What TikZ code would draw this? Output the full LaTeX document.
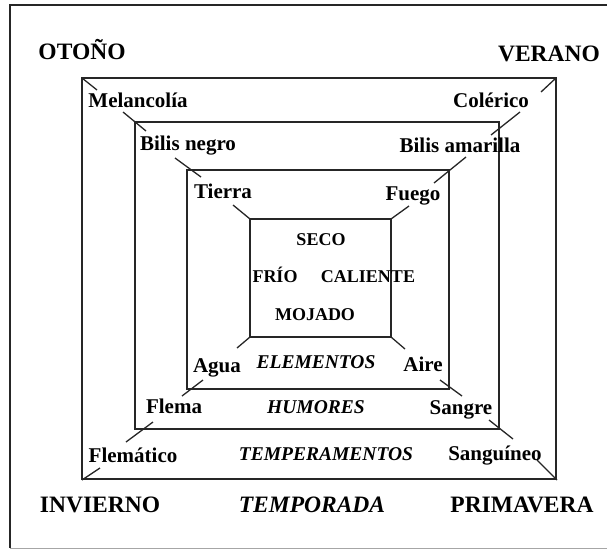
\documentclass[tikz,border=0pt]{standalone}
\usepackage{fontspec}
\setmainfont{Liberation Serif}
\begin{document}
\begin{tikzpicture}[x=1pt,y=-1pt,
  boxline/.style={line width=1.7pt,draw=black!85},
  tick/.style={line width=1.3pt,draw=black!85},
  lbl/.style={anchor=base,inner sep=0pt,font=\fontsize{21}{21}\selectfont\bfseries},
  seasonlbl/.style={anchor=base,inner sep=0pt,font=\fontsize{23.5}{23.5}\selectfont\bfseries},
  inlbl/.style={anchor=base,inner sep=0pt,font=\fontsize{18}{18}\selectfont\bfseries},
  itlbl/.style={anchor=base,inner sep=0pt,font=\fontsize{19.5}{19.5}\selectfont\bfseries\itshape}]
\useasboundingbox (0,0) rectangle (607,549);
% frame
\coordinate (fa) at (10,5);
\coordinate (fb) at (607,5);
\coordinate (fc) at (10,548);
\coordinate (fd) at (607,548);
\draw[line width=2pt,black!85] (fb) -- (fa) -- (fc);
\draw[line width=1pt,black!35] (fc) -- (fd);
% boxes
\coordinate (b1a) at (82,78);  \coordinate (b1b) at (556,479);
\coordinate (b2a) at (135,122); \coordinate (b2b) at (499,429);
\coordinate (b3a) at (187,170); \coordinate (b3b) at (449,389);
\coordinate (b4a) at (250,219); \coordinate (b4b) at (391,337);
\draw[boxline] (b1a) rectangle (b1b);
\draw[boxline] (b2a) rectangle (b2b);
\draw[boxline] (b3a) rectangle (b3b);
\draw[boxline] (b4a) rectangle (b4b);
% diagonal ticks: top-left
\coordinate (tl1a) at (82,78);  \coordinate (tl1b) at (97,90);
\coordinate (tl2a) at (123,112); \coordinate (tl2b) at (146,131);
\coordinate (tl3a) at (175,158); \coordinate (tl3b) at (201,177);
\coordinate (tl4a) at (233,205); \coordinate (tl4b) at (250,219);
\draw[tick] (tl1a) -- (tl1b);
\draw[tick] (tl2a) -- (tl2b);
\draw[tick] (tl3a) -- (tl3b);
\draw[tick] (tl4a) -- (tl4b);
% top-right
\coordinate (tr1a) at (556,78);  \coordinate (tr1b) at (541,92);
\coordinate (tr2a) at (520,112); \coordinate (tr2b) at (491,135);
\coordinate (tr3a) at (466,157); \coordinate (tr3b) at (434,183);
\coordinate (tr4a) at (409,206); \coordinate (tr4b) at (391,219);
\draw[tick] (tr1a) -- (tr1b);
\draw[tick] (tr2a) -- (tr2b);
\draw[tick] (tr3a) -- (tr3b);
\draw[tick] (tr4a) -- (tr4b);
% bottom-right
\coordinate (br4a) at (391,337); \coordinate (br4b) at (405,349);
\coordinate (br3a) at (440,380); \coordinate (br3b) at (462,396);
\coordinate (br2a) at (489,420); \coordinate (br2b) at (513,439);
\coordinate (br1a) at (537,460); \coordinate (br1b) at (557,480);
\draw[tick] (br4a) -- (br4b);
\draw[tick] (br3a) -- (br3b);
\draw[tick] (br2a) -- (br2b);
\draw[tick] (br1a) -- (br1b);
% bottom-left
\coordinate (bl4a) at (250,337); \coordinate (bl4b) at (237,348);
\coordinate (bl3a) at (203,380); \coordinate (bl3b) at (182,396);
\coordinate (bl2a) at (153,422); \coordinate (bl2b) at (126,442);
\coordinate (bl1a) at (100,468); \coordinate (bl1b) at (82,480);
\draw[tick] (bl4a) -- (bl4b);
\draw[tick] (bl3a) -- (bl3b);
\draw[tick] (bl2a) -- (bl2b);
\draw[tick] (bl1a) -- (bl1b);
% labels
\node[seasonlbl] (otono) at (82,59.5) {OTOÑO};
\node[seasonlbl] (verano) at (549,61.5) {VERANO};
\node[seasonlbl] (invierno) at (100,512) {INVIERNO};
\node[seasonlbl] (primavera) at (522,512) {PRIMAVERA};
\node[itlbl,font=\fontsize{23.5}{23.5}\selectfont\bfseries\itshape] (temporada) at (312,512) {TEMPORADA};
\node[lbl] (melan) at (138,107) {Melancolía};
\node[lbl] (coler) at (491,107) {Colérico};
\node[lbl] (bnegro) at (188,150) {Bilis negro};
\node[lbl] (bamar) at (460,152) {Bilis amarilla};
\node[lbl] (tierra) at (223,198) {Tierra};
\node[lbl] (fuego) at (413,200) {Fuego};
\node[inlbl] (seco) at (321,245) {SECO};
\node[inlbl] (frio) at (275,282) {FRÍO};
\node[inlbl] (caliente) at (368,282) {CALIENTE};
\node[inlbl] (mojado) at (315,320) {MOJADO};
\node[lbl] (agua) at (217,372) {Agua};
\node[itlbl] (elem) at (316,368) {ELEMENTOS};
\node[lbl] (aire) at (423,371) {Aire};
\node[lbl] (flema) at (174,413) {Flema};
\node[itlbl] (humores) at (316,413) {HUMORES};
\node[lbl] (sangre) at (461,414) {Sangre};
\node[lbl] (flemat) at (133,462) {Flemático};
\node[itlbl] (temper) at (326,460) {TEMPERAMENTOS};
\node[lbl] (sangui) at (495,460) {Sanguíneo};
\end{tikzpicture}
\end{document}
